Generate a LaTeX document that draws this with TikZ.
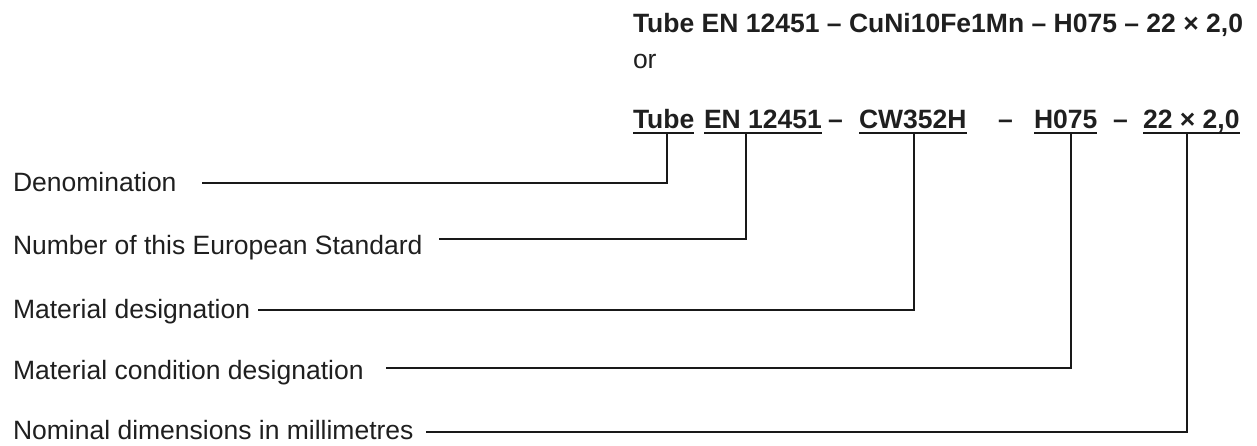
\documentclass[tikz,border=0pt]{standalone}
\usepackage{fontspec}
\setmainfont{Liberation Sans}
\begin{document}
\begin{tikzpicture}[x=1pt,y=-1pt,
  txt/.style={inner sep=0pt,outer sep=0pt,anchor=base west,font=\fontsize{26.5}{30}\selectfont,text=black!88},
  btxt/.style={txt,font=\fontsize{26.5}{30}\selectfont\bfseries},
  ul/.style={line width=2.6pt,black!90},
  conn/.style={line width=1.8pt,black!90}]
\useasboundingbox (0,0) rectangle (1257,445);
% header lines
\node[btxt] (top) at (633,32) {Tube EN 12451 – CuNi10Fe1Mn – H075 – 22 × 2,0};
\node[txt] (or) at (633,68) {or};
% designation parts
\node[btxt] (wTube) at (633,128) {Tube};
\node[btxt] (wEN) at (704,128) {EN 12451};
\node[btxt] (d1) at (828,128) {–};
\node[btxt] (wCW) at (859,128) {CW352H};
\node[btxt] (d2) at (998,128) {–};
\node[btxt] (wH) at (1034,128) {H075};
\node[btxt] (d3) at (1113,128) {–};
\node[btxt] (wDim) at (1143,128) {22 × 2,0};
\foreach \w in {wTube,wEN,wCW,wH,wDim}
  \draw[ul] ([yshift=-5pt]\w.base west) -- ([yshift=-5pt]\w.base east);
% labels
\node[txt] (lDen) at (13,191) {Denomination};
\node[txt] (lNum) at (13,254) {Number of this European Standard};
\node[txt] (lMat) at (13,318) {Material designation};
\node[txt] (lCond) at (13,379) {Material condition designation};
\node[txt] (lNom) at (13,439) {Nominal dimensions in millimetres};
% connector ends
\coordinate (k1) at (667,134);
\coordinate (k2) at (746,134);
\coordinate (k3) at (914,134);
\coordinate (k4) at (1071,134);
\coordinate (k5) at (1187,134);
\coordinate (e1) at (202,183);
\coordinate (e2) at (439,239);
\coordinate (e3) at (258,310);
\coordinate (e4) at (386,368);
\coordinate (e5) at (426,432);
\draw[conn] (k1) |- (e1);
\draw[conn] (k2) |- (e2);
\draw[conn] (k3) |- (e3);
\draw[conn] (k4) |- (e4);
\draw[conn] (k5) |- (e5);
\end{tikzpicture}
\end{document}
